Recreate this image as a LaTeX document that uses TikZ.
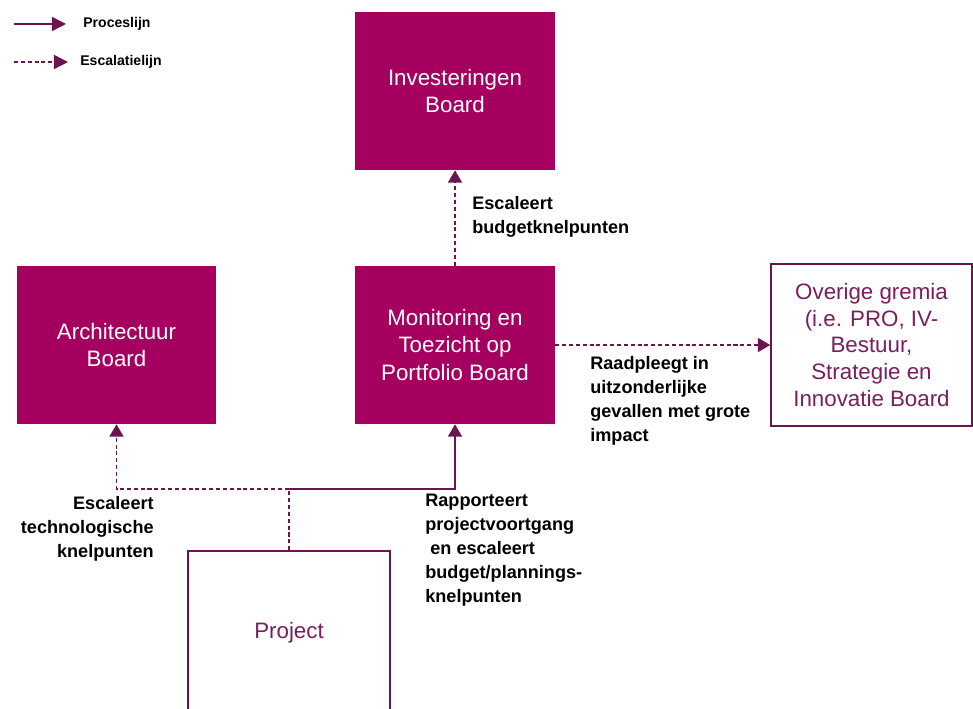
\documentclass[tikz,border=0pt]{standalone}
\usepackage{fontspec}
\setmainfont{Liberation Sans}
\usetikzlibrary{arrows.meta,positioning}
\definecolor{boardfill}{HTML}{A5005F}
\definecolor{linepurple}{HTML}{6B1550}
\definecolor{textpurple}{HTML}{7A1F5C}

\begin{document}
\begin{tikzpicture}[x=0.02cm,y=-0.02cm]
  \tikzset{board/.style = {shape=rectangle,fill=boardfill,text=white,minimum width=4cm,minimum height=3.16cm,
      align=center,inner sep=2pt,font=\fontsize{12.7}{15.8}\selectfont}}
  \tikzset{openbox/.style = {shape=rectangle,draw=linepurple,line width=0.9pt,fill=white,text=textpurple,
      align=center,inner sep=2pt,font=\fontsize{12.7}{15.8}\selectfont}}
  \tikzset{proc/.style = {draw=linepurple,line width=0.85pt,-{Triangle[length=7pt,width=8pt]}}}
  \tikzset{esc/.style = {proc,dash pattern=on 2.3pt off 1.6pt}}
  \tikzset{label/.style = {align=left,inner sep=0pt,font=\bfseries\fontsize{10.3}{13.6}\selectfont}}

  \useasboundingbox (0,0) rectangle (973,709);
  \clip (0,0) rectangle (973,709);

  \node[board] (inv) at (455,91) {Investeringen\\Board};
  \node[board,minimum width=3.98cm] (arch) at (116.5,345) {Architectuur\\Board};
  \node[board] (mon) at (455,345) {Monitoring en\\Toezicht op\\Portfolio Board};
  \node[openbox,minimum width=4.02cm,minimum height=3.24cm,font=\fontsize{12.7}{15.3}\selectfont] (ovr) at (871.5,345)
      {Overige gremia\\(i.e. PRO, IV-\\Bestuur,\\Strategie en\\Innovatie Board};
  \node[openbox,minimum width=4.04cm,minimum height=3.28cm] (proj) at (289,633) {Project};

  % legenda
  \coordinate (procA) at (14,24);
  \coordinate (procB) at (66,24);
  \coordinate (escA) at (14,62);
  \coordinate (escB) at (68,62);
  \draw[proc,-{Triangle[length=8pt,width=8pt]}] (procA) -- (procB);
  \draw[esc,-{Triangle[length=8pt,width=8pt]}] (escA) -- (escB);
  \node[label,anchor=west,font=\bfseries\fontsize{8}{10}\selectfont] (procT) at (83,24) {Proceslijn};
  \node[label,anchor=west,font=\bfseries\fontsize{8}{10}\selectfont] (escT) at (80,62) {Escalatielijn};

  % lijnen
  \coordinate (fork) at (289,489);
  \draw[esc] (mon.north) -- (inv.south);
  \draw[esc] (mon.east) -- (ovr.west);
  \draw[esc] (proj.north) -- (fork) -| (arch.south);
  \draw[proc] (fork) -| (mon.south);

  % teksten
  \node[label,anchor=north west] (budgetT) at (472,196) {Escaleert\\budgetknelpunten};
  \node[label,anchor=north west] (raadT) at (590,356) {Raadpleegt in\\uitzonderlijke\\gevallen met grote\\impact};
  \node[label,anchor=north east,align=right] (techT) at (154,496) {Escaleert\\technologische\\knelpunten};
  \node[label,anchor=north west] (rappT) at (425,494) {Rapporteert\\projectvoortgang\\\ en escaleert\\budget/plannings-\\knelpunten};
\end{tikzpicture}
\end{document}
